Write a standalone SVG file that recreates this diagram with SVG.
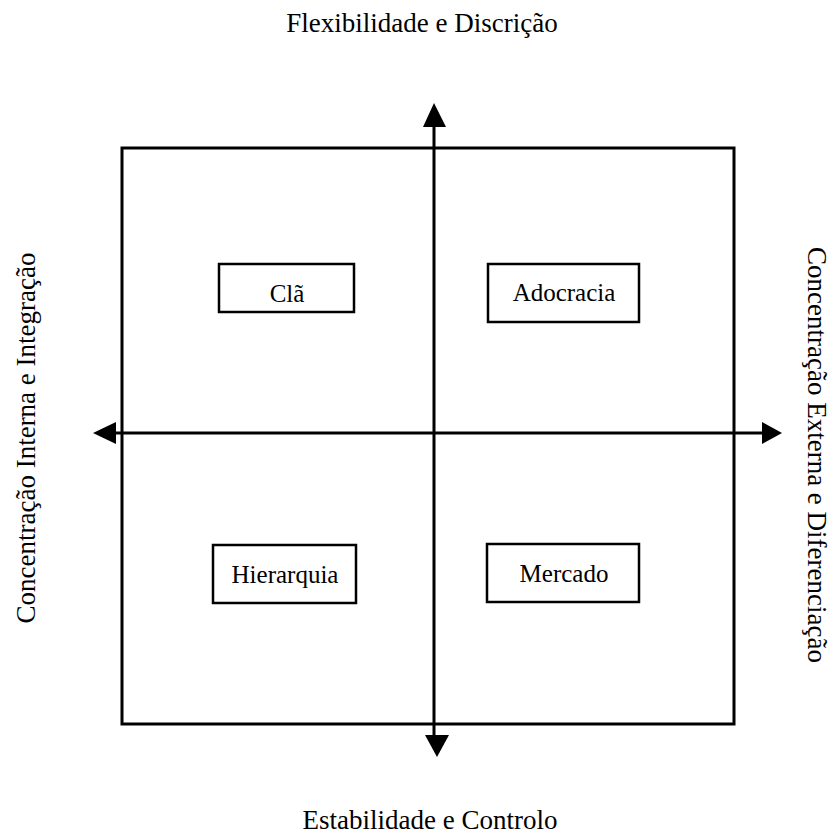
<svg xmlns="http://www.w3.org/2000/svg" width="834" height="837" viewBox="0 0 834 837">
  <style>
    .frame { fill: none; stroke: #000; stroke-width: 3; }
    .box { fill: #fff; stroke: #000; stroke-width: 2.5; }
    .axis { stroke: #000; stroke-width: 3; fill: none; }
    .head { fill: #000; stroke: none; }
    text { font-family: "Liberation Serif", "Times New Roman", serif; fill: #000; }
    .lbl { font-size: 25px; text-anchor: middle; }
    .dim { font-size: 27px; text-anchor: middle; }
  </style>

  <!-- outer frame -->
  <rect class="frame" x="122" y="148" width="612" height="576"/>

  <!-- axes with arrowheads -->
  <g id="connectors">
    <line class="axis" x1="434" y1="125" x2="434" y2="738"/>
    <line class="axis" x1="114" y1="433" x2="764" y2="433"/>
    <polygon class="head" points="434,103 423,127 446,127"/>
    <polygon class="head" points="437,757 425,735 449,735"/>
    <polygon class="head" points="93,433 116,422 116,444"/>
    <polygon class="head" points="782,433 762,422 762,444"/>
  </g>

  <!-- quadrant labels -->
  <g id="cla">
    <rect class="box" x="219" y="264" width="135" height="48"/>
    <text class="lbl" x="287" y="302">Clã</text>
  </g>
  <g id="adocracia">
    <rect class="box" x="488" y="264" width="151" height="58"/>
    <text class="lbl" x="564" y="301">Adocracia</text>
  </g>
  <g id="hierarquia">
    <rect class="box" x="213" y="545" width="143" height="58"/>
    <text class="lbl" x="285" y="583">Hierarquia</text>
  </g>
  <g id="mercado">
    <rect class="box" x="487" y="544" width="152" height="58"/>
    <text class="lbl" x="564" y="582">Mercado</text>
  </g>

  <!-- dimension labels -->
  <g id="top-label"><text class="dim" x="422" y="32">Flexibilidade e Discrição</text></g>
  <g id="bottom-label"><text class="dim" x="430" y="829">Estabilidade e Controlo</text></g>
  <g id="left-label"><text class="dim" transform="translate(35,438) rotate(-90)">Concentração Interna e Integração</text></g>
  <g id="right-label"><text class="dim" transform="translate(808,455) rotate(90)">Concentração Externa e Diferenciação</text></g>
</svg>
